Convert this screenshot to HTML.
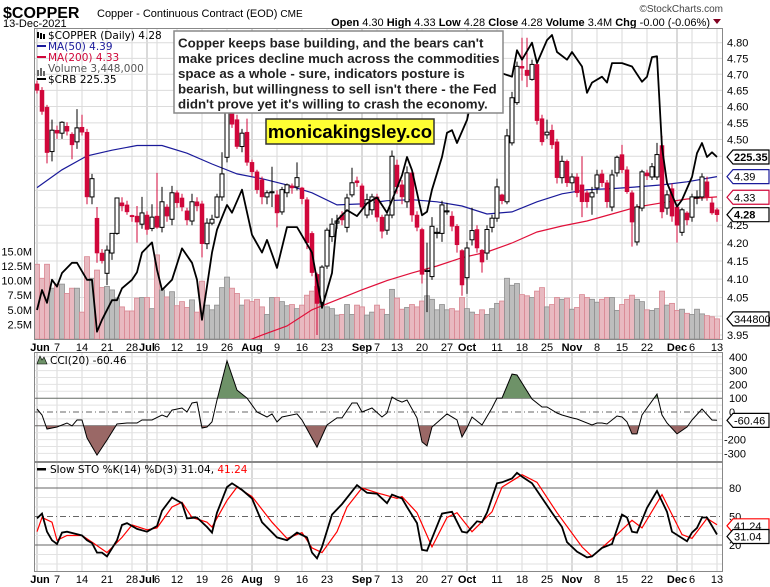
<!DOCTYPE html>
<html><head><meta charset="utf-8">
<style>
html,body{margin:0;padding:0;background:#fff;}
svg{display:block;font-family:"Liberation Sans",Arial,sans-serif;}
.ax{font-family:"Liberation Sans",Arial,sans-serif;font-size:11px;fill:#000;}
.lgd{font-family:"DejaVu Sans","Liberation Sans",sans-serif;}
</style></head>
<body>
<svg id="chart" width="770" height="587" viewBox="0 0 770 587" xmlns="http://www.w3.org/2000/svg">
<text x="3" y="18" font-size="16" font-weight="bold">$COPPER</text>
<text x="97" y="17" font-size="11">Copper - Continuous Contract (EOD) <tspan font-size="10">CME</tspan></text>
<text x="3" y="27" font-size="11">13-Dec-2021</text>
<text x="723" y="12" font-size="10" fill="#444" text-anchor="end">©StockCharts.com</text>
<text x="710" y="26" font-size="11" text-anchor="end"><tspan font-weight="bold">Open</tspan> 4.30 <tspan font-weight="bold">High</tspan> 4.33 <tspan font-weight="bold">Low</tspan> 4.28 <tspan font-weight="bold">Close</tspan> 4.28 <tspan font-weight="bold">Volume</tspan> 3.4M <tspan font-weight="bold">Chg</tspan> -0.00 (-0.06%)</text>
<polygon points="713,19 721,19 717,24" fill="#800020"/>
<g id="g"></g>
</svg>
<script>
const ohlc=[[4.67,4.68,4.64,4.65],[4.65,4.66,4.575,4.585],[4.598,4.605,4.429,4.461],[4.464,4.56,4.435,4.528],[4.528,4.542,4.502,4.519],[4.519,4.555,4.502,4.552],[4.54,4.552,4.512,4.525],[4.516,4.522,4.441,4.484],[4.493,4.592,4.472,4.535],[4.537,4.575,4.512,4.522],
[4.522,4.532,4.31,4.331],[4.331,4.398,4.31,4.384],[4.27,4.302,4.145,4.172],[4.172,4.183,4.143,4.151],[4.116,4.193,4.084,4.18],[4.172,4.227,4.153,4.227],[4.227,4.328,4.223,4.328],[4.314,4.33,4.29,4.305],[4.308,4.32,4.28,4.288],[4.278,4.28,4.26,4.274],
[4.276,4.305,4.201,4.259],[4.253,4.331,4.24,4.285],[4.279,4.29,4.223,4.238],[4.241,4.31,4.233,4.273],[4.276,4.401,4.24,4.244],[4.244,4.36,4.23,4.317],[4.302,4.31,4.26,4.276],[4.267,4.363,4.25,4.343],[4.343,4.35,4.30,4.314],[4.328,4.34,4.29,4.302],
[4.291,4.30,4.25,4.265],[4.262,4.34,4.25,4.317],[4.317,4.33,4.29,4.305],[4.311,4.32,4.16,4.198],[4.198,4.27,4.183,4.256],[4.256,4.28,4.25,4.267],[4.273,4.34,4.27,4.331],[4.331,4.462,4.32,4.398],[4.447,4.605,4.432,4.581],[4.581,4.595,4.535,4.546],
[4.56,4.575,4.472,4.479],[4.479,4.532,4.462,4.519],[4.522,4.563,4.422,4.432],[4.432,4.44,4.39,4.404],[4.404,4.41,4.34,4.352],[4.381,4.39,4.31,4.331],[4.331,4.35,4.31,4.343],[4.343,4.419,4.302,4.346],[4.337,4.35,4.244,4.285],[4.288,4.36,4.28,4.352],
[4.343,4.37,4.33,4.366],[4.363,4.37,4.34,4.357],[4.36,4.432,4.35,4.387],[4.357,4.36,4.31,4.326],[4.323,4.33,4.183,4.201],[4.227,4.233,4.108,4.118],[4.113,4.118,3.95,4.034],[4.037,4.138,4.024,4.133],[4.136,4.243,4.128,4.236],[4.218,4.27,4.203,4.253],
[4.256,4.28,4.24,4.262],[4.279,4.29,4.25,4.265],[4.244,4.34,4.23,4.328],[4.337,4.416,4.33,4.372],[4.378,4.39,4.36,4.372],[4.363,4.37,4.29,4.302],[4.279,4.34,4.27,4.323],[4.294,4.34,4.28,4.331],[4.331,4.34,4.26,4.273],[4.273,4.28,4.213,4.233],
[4.236,4.29,4.223,4.279],[4.279,4.467,4.27,4.45],[4.424,4.44,4.34,4.36],[4.366,4.38,4.31,4.331],[4.317,4.42,4.30,4.401],[4.401,4.41,4.26,4.279],[4.279,4.29,4.233,4.244],[4.238,4.243,4.088,4.113],[4.121,4.201,4.011,4.124],[4.107,4.273,4.098,4.247],
[4.227,4.243,4.213,4.23],[4.227,4.32,4.203,4.308],[4.288,4.314,4.28,4.291],[4.276,4.29,4.233,4.247],[4.247,4.253,4.173,4.195],[4.179,4.183,4.055,4.084],[4.104,4.203,4.06,4.186],[4.209,4.30,4.193,4.235],[4.238,4.25,4.173,4.186],[4.18,4.183,4.118,4.147],
[4.172,4.25,4.153,4.238],[4.244,4.28,4.23,4.27],[4.27,4.384,4.26,4.36],[4.337,4.34,4.31,4.32],[4.317,4.532,4.31,4.511],[4.49,4.645,4.482,4.627],[4.612,4.74,4.605,4.725],[4.725,4.816,4.68,4.719],[4.713,4.816,4.66,4.696],[4.684,4.746,4.68,4.731],
[4.731,4.74,4.545,4.557],[4.563,4.575,4.482,4.493],[4.514,4.56,4.502,4.522],[4.528,4.545,4.472,4.484],[4.493,4.502,4.37,4.387],[4.387,4.452,4.37,4.435],[4.435,4.44,4.36,4.372],[4.372,4.40,4.35,4.389],[4.389,4.40,4.33,4.343],[4.366,4.45,4.273,4.317],
[4.343,4.35,4.30,4.317],[4.331,4.36,4.28,4.343],[4.357,4.41,4.34,4.395],[4.398,4.41,4.36,4.372],[4.372,4.38,4.30,4.317],[4.302,4.41,4.29,4.395],[4.401,4.452,4.39,4.447],[4.455,4.484,4.40,4.41],[4.41,4.42,4.34,4.346],[4.343,4.35,4.19,4.259],
[4.203,4.31,4.193,4.302],[4.299,4.41,4.29,4.404],[4.401,4.41,4.38,4.392],[4.389,4.43,4.38,4.419],[4.389,4.49,4.38,4.455],[4.482,4.511,4.27,4.288],[4.299,4.35,4.28,4.337],[4.355,4.37,4.26,4.276],[4.302,4.31,4.201,4.25],[4.23,4.30,4.22,4.294],
[4.285,4.29,4.25,4.265],[4.273,4.34,4.26,4.331],[4.328,4.35,4.31,4.331],[4.331,4.40,4.32,4.389],[4.375,4.39,4.32,4.331],[4.314,4.33,4.28,4.285],[4.294,4.30,4.26,4.28]];
const volumes=[12.8,10.4,12.8,8.7,9.4,9.4,7.8,8.7,8.7,4.6,14.1,10.4,11.8,8.8,9.0,8.4,7.0,5.5,4.8,4.8,7.0,7.1,7.1,5.2,14.4,8.4,7.2,8.1,5.7,6.4,5.4,6.7,4.6,9.9,5.8,5.0,5.8,8.8,10.6,8.7,7.8,5.8,6.7,6.4,6.8,5.5,4.2,7.1,7.1,6.4,5.7,5.9,5.2,5.8,7.5,8.2,9.0,6.1,5.5,5.2,4.1,4.2,5.9,4.2,5.8,5.5,4.1,4.6,5.8,
5.1,4.2,8.5,7.0,5.1,5.4,5.9,5.5,6.5,7.4,6.8,5.0,5.9,5.0,5.2,4.8,7.1,5.2,4.6,4.2,5.0,4.2,5.2,6.1,6.5,10.4,9.2,9.5,7.6,7.4,7.1,8.2,8.8,5.5,5.9,7.1,6.8,7.0,5.1,5.4,7.6,7.1,6.8,6.3,6.8,7.1,7.1,4.9,5.9,6.8,7.5,6.8,6.4,5.0,4.9,5.2,8.2,5.8,6.1,4.9,5.1,4.4,4.2,5.1,4.3,4.0,3.8,3.45];
const ma50Bars=[0,5,10,15,20,25,30,35,40,45,50,55,60,65,70,75,80,85,90,95,100,105,110,115,120,125,130,136];
const ma50Vals=[4.358,4.41,4.451,4.468,4.482,4.482,4.459,4.427,4.398,4.384,4.366,4.343,4.308,4.311,4.32,4.323,4.317,4.305,4.282,4.288,4.317,4.34,4.352,4.355,4.36,4.366,4.375,4.39];
const ma200Bars=[40,45,50,55,60,65,70,75,80,85,90,95,100,105,110,115,120,125,130,136];
const ma200Vals=[3.924,3.95,3.974,4.017,4.044,4.071,4.096,4.117,4.136,4.159,4.175,4.2,4.231,4.248,4.262,4.282,4.302,4.314,4.325,4.331];
const crbBars=[0,1,2,3,4,5,7,8,10,11,12,13,15,16,17,19,20,21,23,24,25,27,29,31,32,33,35,36,38,39,41,43,45,46,48,50,52,55,57,59,60,62,64,66,68,70,73,74,75,77,78,79,81,82,83,84,86,87,90,93,95,96,97,99,100,102,103,104,106,107,109,110,111,113,114,115,117,119,121,122,123,124,125,126,128,129,131,132,133,134,135,136];
const crbVals=[207.35,209.7,208.2,210.9,210.1,211.7,212.9,212.9,210.9,210.9,204.8,206.2,208.5,208.5,209.9,210.9,211.8,214.1,215.3,212.1,209.7,210.9,214.6,212.9,210.9,206.2,214.1,216.8,219.7,218.8,221.5,216.2,214.1,215.6,212.3,217.1,217.1,214.1,207.6,211.7,217.9,219.1,218.4,219.9,220.6,218.8,223.2,225.35,223.8,218.5,218.9,221.5,225.35,228.2,228.5,227.0,229.7,232.4,233.8,235.2,234.8,237.9,236.8,238.8,236.4,239.1,239.7,237.7,236.8,237.7,236.0,232.9,234.1,234.8,234.1,236.4,236.4,236.0,234.2,234.8,237.1,237.2,226.5,222.3,219.5,220.3,223.0,225.8,227.0,225.35,225.9,225.35];
const cciBars=[0,1,2,4,6,7,8,9,10,12,14,16,18,20,21,23,25,26,27,29,30,31,32,33,34,35,36,38,40,42,44,46,47,48,49,52,53,56,58,60,61,63,64,65,67,69,70,71,72,73,74,76,77,78,79,82,84,85,86,87,89,91,92,93,95,96,99,101,102,104,105,107,108,111,112,113,114,116,117,118,119,120,121,122,124,125,126,128,130,131,133,135,136];
const cciVals=[22,-22,-123,-109,-80,-101,-58,-58,-188,-312,-203,-87,-80,-80,-58,-58,-22,-36,14,29,0,65,72,-116,-109,-72,87,370,159,101,0,-36,-14,-72,-36,-14,-58,-254,-94,-43,-43,65,65,0,29,-36,-7,109,87,72,87,-43,-217,-246,-109,-14,-58,-181,-116,-36,-94,29,101,101,275,268,94,36,36,-7,-22,-43,-51,-94,-80,-80,-87,-29,-36,-72,-159,-159,-22,29,130,-22,-80,-159,-109,-58,22,-58,-60.46];
const stoKBars=[0,1,2,3,4,5,6,9,10,11,12,13,14,16,17,18,20,22,24,25,27,29,30,32,34,35,36,38,39,41,43,45,48,50,52,54,55,56,57,59,61,64,66,68,70,71,72,73,74,76,77,78,81,83,85,86,88,89,90,92,93,95,96,97,99,103,105,106,108,110,111,113,115,117,118,119,120,122,124,126,127,130,131,132,133,134,136];
const stoKVals=[48,53,34,25,21,33,34,30,25,22,12,12,8,25,41,43,37,34,40,56,70,64,48,49,39,33,54,81,85,78,69,44,28,25,33,28,12,6,18,52,63,83,75,74,64,73,71,69,60,43,15,14,53,55,34,33,45,44,54,85,86,90,96,92,85,54,39,23,13,7,8,17,21,52,49,34,33,59,77,55,34,24,33,38,49,49,31.04];
const stoDBars=[0,1,3,4,6,9,11,14,17,19,22,24,27,29,31,34,35,38,40,43,47,50,53,55,57,60,62,65,68,72,73,76,79,82,84,87,91,93,97,100,104,109,111,116,119,121,125,129,131,134,136];
const stoDVals=[34,49,44,25,30,30,23,12,28,41,36,38,60,65,49,44,39,67,81,71,44,27,33,17,12,34,60,80,75,69,71,54,18,49,54,34,55,81,94,86,54,18,8,31,46,38,73,31,27,48,41.24];
const priceTicks=[4.80,4.75,4.70,4.65,4.60,4.55,4.50,4.45,4.40,4.35,4.30,4.25,4.20,4.15,4.10,4.05,4.00,3.95];
const priceTickLabels=["4.80","4.75","4.70","4.65","4.60","4.55","4.50","4.45","4.40","4.35","4.30","4.25","4.20","4.15","4.10","4.05","4.00","3.95"];
const volTicks=[15,12.5,10,7.5,5,2.5];
const volTickLabels=["15.0M","12.5M","10.0M","7.5M","5.0M","2.5M"];
const cciTicks=[400,300,200,100,0,-100,-200,-300];
const stoTicks=[80,50,20];
const dateTickBars=[0,4,9,14,19,22,24,28,33,38,43,48,53,58,65,68,72,77,82,86,92,97,102,107,112,117,122,128,131,136];
const dateTickLabels=["Jun","7","14","21","28","Jul","6","12","19","26","Aug","9","16","23","Sep","7","13","20","27","Oct","11","18","25","Nov","8","15","22","Dec","6","13"];
const dateTickMonth=[1,0,0,0,0,1,0,0,0,0,1,0,0,0,1,0,0,0,0,1,0,0,0,1,0,0,0,1,0,0];

const NS="http://www.w3.org/2000/svg";
const G=document.getElementById('g');
function el(t,a,p){const e=document.createElementNS(NS,t);for(const k in a)e.setAttribute(k,a[k]);(p||G).appendChild(e);return e;}
const L=34,R=723,MT=28,MB=340,CT=352,CB=462,ST=462,SB=572;
const X=i=>37+5*i;
const PY=p=>42.7+(Math.log(4.8)-Math.log(p))*1500;
const VY=v=>339-v*5.84;
const CY=c=>412-c*0.138;
const SY=s=>488+(80-s)*0.95;
const CRBY=v=>157+(225.35-v)*8.5;

const defs=el('defs',{});
const cm=el('clipPath',{id:'cm'},defs);el('rect',{x:L,y:MT,width:R-L,height:MB-MT},cm);
const cup=el('clipPath',{id:'cup'},defs);el('rect',{x:L,y:CT,width:R-L,height:CY(100)-CT},cup);
const cdn=el('clipPath',{id:'cdn'},defs);el('rect',{x:L,y:CY(-100),width:R-L,height:CB-CY(-100)},cdn);

function grid(top,bot,name){
  const g=el('g',{});
  
  
  dateTickBars.forEach((b,k)=>{
    const v=el('line',{x1:X(b),x2:X(b),y1:top,y2:bot,stroke:dateTickMonth[k]?'#b4b4b4':'#d8d8d8','stroke-width':1},g);
    
    
  });
  return g;
}
const gm=grid(MT,MB,'price-grid');
priceTicks.forEach(p=>{const l=el('line',{x1:L,x2:R,y1:PY(p),y2:PY(p),stroke:'#dcdcdc'},gm);});
const gc=grid(CT,CB,'cci-grid');
[350,250,150,50,-50,-150,-250,400,300,200,-200,-300].forEach(c=>{const l=el('line',{x1:L,x2:R,y1:CY(c),y2:CY(c),stroke:'#e2e2e2'},gc);});
const gs=grid(ST,SB,'sto-grid');
[100,90,70,60,40,30,10,0].forEach(s=>{const l=el('line',{x1:L,x2:R,y1:SY(s),y2:SY(s),stroke:'#e2e2e2'},gs);});

const main=el('g',{'clip-path':'url(#cm)'});


volumes.forEach((v,i)=>{
  const dn=ohlc[i][3]<ohlc[i][0];
  const r=el('rect',{x:X(i)-2.5,y:VY(v),width:5,height:339-VY(v),fill:dn?'#e8b9c0':'#bdbdbd',stroke:dn?'#d98792':'#8e8e8e','stroke-width':0.8},main);
  
  
});
function poly(bars,vals,sc,attrs,parent,name){
  const pts=bars.map((b,k)=>X(b).toFixed(1)+','+sc(vals[k]).toFixed(1)).join(' ');
  const p=el('polyline',Object.assign({points:pts,fill:'none'},attrs),parent);
  
  
  return p;
}
poly(ma200Bars,ma200Vals,PY,{stroke:'#e0103a','stroke-width':1.2},main,'ma200-line');
poly(ma50Bars,ma50Vals,PY,{stroke:'#1a1a9a','stroke-width':1.2},main,'ma50-line');
ohlc.forEach((c,i)=>{
  const [o,h,l,cl]=c;const dn=cl<o;const x=X(i);
  const col=dn?'#d0073a':'#000';
  const w=el('line',{x1:x,x2:x,y1:PY(h),y2:PY(l),stroke:col,'stroke-width':1},main);
  
  
  const top=PY(Math.max(o,cl)),bot=PY(Math.min(o,cl));
  const b=el('rect',{x:x-2,y:top,width:4,height:Math.max(1,bot-top),fill:dn?'#d0073a':'#fff',stroke:col,'stroke-width':dn?0.5:1},main);
  
  
});
poly(crbBars,crbVals,CRBY,{stroke:'#000','stroke-width':1.8,'stroke-linejoin':'round'},main,'crb-line');
el('rect',{x:L+0.5,y:MT+0.5,width:R-L-1,height:MB-MT-1,fill:'none',stroke:'#888'});

const lg=el('g',{class:'lgd'});


const legends=[["$COPPER (Daily) 4.28","#000"],["MA(50) 4.39","#1a1a9a"],["MA(200) 4.33","#d0073a"],["Volume 3,448,000","#555"],["$CRB 225.35","#000"]];
legends.forEach((d,k)=>{
  const y=39+k*11;
  const t=el('text',{x:48,y:y,fill:d[1],'font-size':10.5},lg);t.textContent=d[0];
  
  
  if(k==1||k==2||k==4){el('rect',{x:37,y:y-5,width:9,height:2,fill:k==4?'#000':d[1]},lg);}
});
el('rect',{x:37,y:32,width:2,height:6,fill:'#000'},lg);el('rect',{x:40,y:33,width:2,height:6,fill:'#000'},lg);el('rect',{x:43,y:34,width:2,height:5,fill:'#000'},lg);
el('rect',{x:37,y:70,width:2,height:6,fill:'#666'},lg);el('rect',{x:40,y:68,width:2,height:8,fill:'#666'},lg);el('rect',{x:43,y:71,width:2,height:5,fill:'#666'},lg);

const ab=el('g',{});


el('rect',{x:174,y:31,width:329,height:82,fill:'#fff',stroke:'#888','stroke-width':1.5},ab);
["Copper keeps base building, and the bears can't","make prices decline much across the commodities","space as a whole - sure, indicators posture is","bearish, but willingness to sell isn't there - the Fed","didn't prove yet it's willing to crash the economy."].forEach((s,k)=>{
  const t=el('text',{x:178,y:47.5+k*15.3,'font-size':13.3,'font-weight':'bold',fill:'#222'},ab);t.textContent=s;
  
  
});
const yb=el('g',{});


el('rect',{x:266,y:119,width:168,height:25,fill:'#ffff33',stroke:'#333','stroke-width':1.5},yb);
const yt=el('text',{x:350,y:138,'font-size':18.5,'font-weight':'bold','text-anchor':'middle'},yb);yt.textContent='monicakingsley.co';

priceTicks.forEach((p,k)=>{if([4.45,4.40,4.35,4.30,4.00].includes(p))return;const t=el('text',{x:727,y:PY(p)+4,class:'ax'});t.textContent=priceTickLabels[k];
  
  });
volTicks.forEach((v,k)=>{const t=el('text',{x:32,y:VY(v)+4,class:'ax','text-anchor':'end','font-size':10.5});t.textContent=volTickLabels[k];
  
  });
function tag(y,txt,col,bold,fs,name){
  const g=el('g',{});
  
  
  el('polygon',{points:`727,${y} 733,${y-7} 769,${y-7} 769,${y+7} 733,${y+7}`,fill:'#fff',stroke:col,'stroke-width':1.2},g);
  const t=el('text',{x:734,y:y+4,class:'ax','font-size':fs||11,'font-weight':bold?'bold':'normal',fill:col=='#000'?'#000':col},g);t.textContent=txt;
}
tag(CRBY(225.35),'225.35','#000',true,11.5,'crb-value-tag');
tag(PY(4.39),'4.39','#1a1a9a',false,11.5,'ma50-value-tag');
tag(PY(4.33),'4.33','#d0073a',false,11.5,'ma200-value-tag');
tag(PY(4.28),'4.28','#000',true,11.5,'close-value-tag');
tag(VY(3.448),'3448000','#000',false,10,'volume-value-tag');

function dates(y,name){
  dateTickBars.forEach((b,k)=>{
    const t=el('text',{x:X(b)+(k==0?3:0),y:y,'font-size':11,'text-anchor':'middle','font-weight':dateTickMonth[k]?'bold':'normal'});
    t.textContent=dateTickLabels[k];
    
    
  });
}
dates(351,'date-tick-label');
dates(583,'date-tick-label');

const cg=el('g',{});


el('line',{x1:L,x2:R,y1:CY(100),y2:CY(100),stroke:'#666'},cg);
el('line',{x1:L,x2:R,y1:CY(-100),y2:CY(-100),stroke:'#666'},cg);
el('line',{x1:L,x2:R,y1:CY(0),y2:CY(0),stroke:'#666','stroke-dasharray':'6,3,1,3'},cg);
const cpts=cciBars.map((b,k)=>X(b).toFixed(1)+','+CY(cciVals[k]).toFixed(1));
const fu=el('polygon',{points:X(cciBars[0])+','+CY(100)+' '+cpts.join(' ')+' '+X(cciBars[cciBars.length-1])+','+CY(100),fill:'#6e9268','clip-path':'url(#cup)'},cg);


const fd=el('polygon',{points:X(cciBars[0])+','+CY(-100)+' '+cpts.join(' ')+' '+X(cciBars[cciBars.length-1])+','+CY(-100),fill:'#9a6866','clip-path':'url(#cdn)'},cg);


poly(cciBars,cciVals,CY,{stroke:'#000','stroke-width':1},cg,'cci-line');
el('rect',{x:L+0.5,y:CT+0.5,width:R-L-1,height:CB-CT-1,fill:'none',stroke:'#888'},cg);
cciTicks.forEach(c=>{if(c==-100)return;const t=el('text',{x:c<0?724:729,y:CY(c)+4,class:'ax'},cg);t.textContent=String(c);
  
  });
tag(CY(-60.46),'-60.46','#000',false,11,'cci-value-tag');
el('polygon',{points:'37,364 40,356 42,360 44,357 47,364',fill:'#6e9268',stroke:'#000','stroke-width':0.6},cg);
const ct=el('text',{x:50,y:364,class:'lgd','font-size':10.5},cg);ct.textContent='CCI(20) -60.46';



const sg=el('g',{});


el('line',{x1:L,x2:R,y1:SY(80),y2:SY(80),stroke:'#666'},sg);
el('line',{x1:L,x2:R,y1:SY(20),y2:SY(20),stroke:'#666'},sg);
el('line',{x1:L,x2:R,y1:SY(50),y2:SY(50),stroke:'#666','stroke-dasharray':'6,3,1,3'},sg);
poly(stoDBars,stoDVals,SY,{stroke:'#f00','stroke-width':1.2},sg,'sto-d-line');
poly(stoKBars,stoKVals,SY,{stroke:'#000','stroke-width':1.8},sg,'sto-k-line');
el('rect',{x:L+0.5,y:ST+0.5,width:R-L-1,height:SB-ST-1,fill:'none',stroke:'#888'},sg);
stoTicks.forEach(s=>{const t=el('text',{x:729,y:SY(s)+4,class:'ax'},sg);t.textContent=String(s);
  
  });
tag(SY(41.24)+1,'41.24','#f00',false,11,'sto-d-value-tag');
tag(SY(31.04)+2,'31.04','#000',false,11,'sto-k-value-tag');
el('rect',{x:37,y:468,width:9,height:2.5,fill:'#000'},sg);
const st=el('text',{x:50,y:473,class:'lgd','font-size':10.5},sg);


st.innerHTML='Slow STO %K(14) %D(3) 31.04, <tspan fill="#f00">41.24</tspan>';
</script>
</body></html>
